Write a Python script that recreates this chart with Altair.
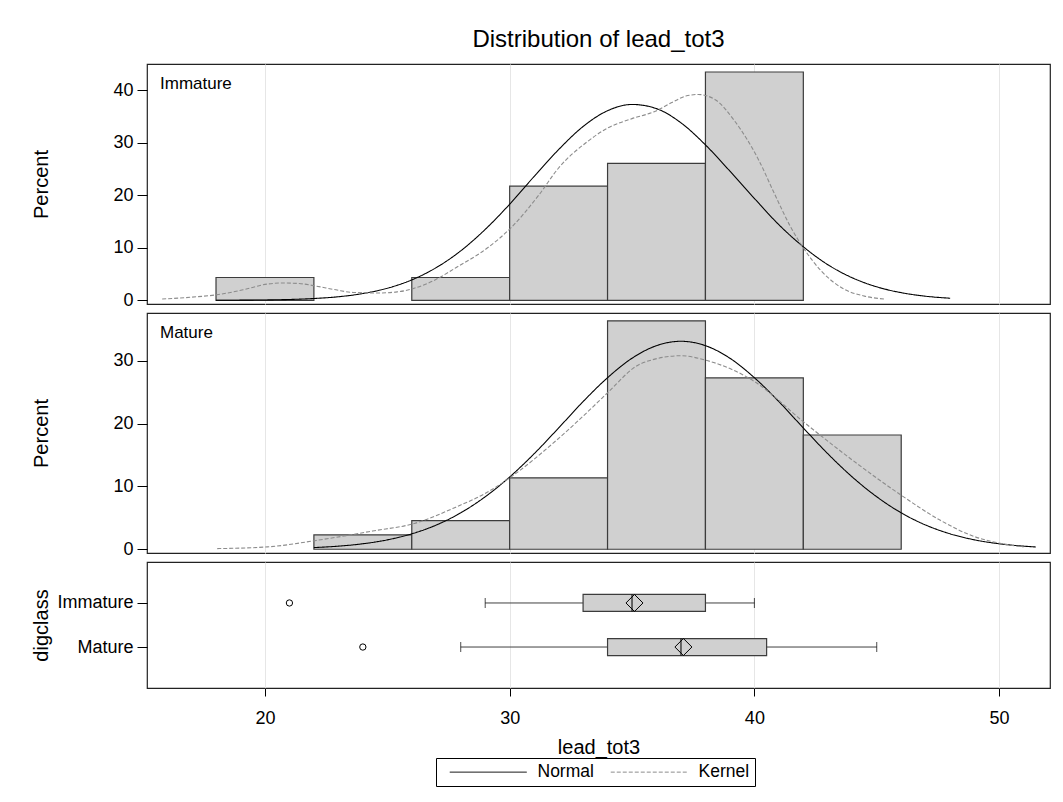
import altair as alt
import pandas as pd

FONT = "Liberation Sans"

# ---- histogram: lower bin edges (bin width 4) and percent of each class ----
BIN_WIDTH = 4
imm_bin_lo = [18, 26, 30, 34, 38]
imm_pct = [4.35, 4.35, 21.74, 26.09, 43.48]
mat_bin_lo = [22, 26, 30, 34, 38, 42]
mat_pct = [2.27, 4.55, 11.36, 36.36, 27.27, 18.18]

# ---- fitted normal curves (percent scale) ----
imm_norm_x = [18, 19, 20, 21, 22, 23, 24, 25, 26, 27, 28, 29, 30, 31, 32, 33,
              34, 35, 36, 37, 38, 39, 40, 41, 42, 43, 44, 45, 46, 47, 48]
imm_norm_y = [0.01, 0.03, 0.07, 0.16, 0.35, 0.68, 1.29, 2.30, 3.89, 6.23, 9.42,
              13.5, 18.3, 23.6, 28.7, 33.1, 36.1, 37.3, 36.5, 33.8, 29.6, 24.6,
              19.4, 14.4, 10.2, 6.79, 4.29, 2.57, 1.46, 0.78, 0.40]
mat_norm_x = [22, 23, 24, 25, 26, 27, 28, 29, 30, 31, 32, 33, 34, 35, 36, 37,
              38, 39, 40, 41, 42, 43, 44, 45, 46, 47, 48, 49, 50, 51, 51.5]
mat_norm_y = [0.26, 0.49, 0.87, 1.49, 2.45, 3.85, 5.79, 8.35, 11.5, 15.2, 19.3,
              23.5, 27.3, 30.4, 32.4, 33.1, 32.4, 30.4, 27.3, 23.5, 19.3, 15.2,
              11.5, 8.35, 5.79, 3.85, 2.45, 1.49, 0.87, 0.49, 0.36]

# ---- kernel density curves (percent scale) ----
imm_kern_x = [15.8, 17.0, 18.1, 19.1, 20.1, 20.7, 21.4, 22.1, 22.9, 23.6, 24.65,
              25.4, 26.1, 27.0, 27.8, 29.1, 30.05, 31.2, 32.0, 33.2, 34.0, 35.0,
              35.95, 36.6, 37.2, 37.7, 38.4, 39.2, 40.2, 40.84, 41.5, 42.0, 42.75,
              43.6, 44.5, 45.3]
imm_kern_y = [0.25, 0.6, 1.1, 2.0, 3.1, 3.3, 3.2, 2.7, 2.0, 1.5, 1.4,
              1.6, 2.3, 4.0, 6.2, 10.0, 13.8, 20.1, 25.2, 30.3, 32.8, 34.6,
              36.0, 37.6, 38.9, 39.2, 38.2, 34.1, 26.5, 20.1, 13.8, 10.0, 5.5,
              2.3, 0.8, 0.25]
mat_kern_x = [18.05, 20.1, 22.1, 24.4, 26.1, 27.8, 29.1, 30.05, 31.9, 33.6, 34.0,
              35.4, 37.0, 38.0, 40.0, 42.0, 44.0, 46.0, 47.6, 49.0, 50.1, 51.0]
mat_kern_y = [0.1, 0.37, 1.4, 2.9, 4.1, 6.7, 9.1, 11.5, 17.3, 23.4, 24.9,
              29.6, 30.8, 30.1, 26.7, 20.3, 14.2, 8.6, 4.6, 2.0, 0.9, 0.37]

# ---- box plot statistics by digclass ----
groups = ["Immature", "Mature"]
whisk_lo = [29, 28]
q1 = [33, 34]
median = [35, 37]
q3 = [38, 40.5]
whisk_hi = [40, 45]
mean = [35.1, 37.1]
outlier_group = ["Immature", "Mature"]
outlier_val = [21, 24]

X_DOMAIN = [15.18, 52.08]
X_TICKS = [20, 30, 40, 50]
GRID = "#e6e6e6"
BAR_FILL = "#d0d0d0"
BAR_STROKE = "#3c3c3c"
PANEL_W = 903
HIST_H = 240

# long horizontal legend line: starts at the symbol centre, 8 symbol-widths long
LEGEND_LINE = "M0,0H16"

x_scale = alt.Scale(domain=X_DOMAIN, nice=False, zero=False)
# grid-only x axis for the histogram panels
hidden_x_axis = alt.Axis(values=X_TICKS, labels=False, ticks=False, domain=False,
                         grid=True, gridColor=GRID, title=None)

curve_color = alt.Color(
    "curve:N",
    scale=alt.Scale(domain=["Normal", "Kernel"], range=["#000000", "#8c8c8c"]),
    legend=alt.Legend(title=None),
)
curve_dash = alt.StrokeDash(
    "curve:N",
    scale=alt.Scale(domain=["Normal", "Kernel"], range=[[1, 0], [4, 2]]),
    legend=alt.Legend(title=None),
)


def percent_axis(ticks, height):
    return alt.Axis(title="Percent", values=ticks, tickSize=10, labelPadding=4,
                    domain=False, grid=False, tickColor="black",
                    titleX=-106, titleY=height / 2, titleAngle=270,
                    titleAlign="center", titleBaseline="middle")


def hist_panel(label, lo, pct, nx, ny, kx, ky, ymin, ymax, yticks, height,
               title=None):
    bars = pd.DataFrame({"lo": lo, "hi": [v + BIN_WIDTH for v in lo], "pct": pct})
    curves = pd.concat([
        pd.DataFrame({"x": nx, "pct": ny, "curve": "Normal"}),
        pd.DataFrame({"x": kx, "pct": ky, "curve": "Kernel"}),
    ])
    y_scale = alt.Scale(domain=[ymin, ymax], nice=False, zero=False)

    bar_layer = alt.Chart(bars).mark_bar(
        fill=BAR_FILL, stroke=BAR_STROKE, strokeWidth=1.2
    ).encode(
        x=alt.X("lo:Q", scale=x_scale, axis=hidden_x_axis),
        x2="hi:Q",
        y=alt.Y("pct:Q", scale=y_scale, axis=percent_axis(yticks, height)),
        y2=alt.datum(0),
    )
    line_layer = alt.Chart(curves).mark_line(
        interpolate="monotone", strokeWidth=1.1
    ).encode(
        x=alt.X("x:Q", scale=x_scale),
        y=alt.Y("pct:Q", scale=y_scale),
        color=curve_color,
        strokeDash=curve_dash,
    )
    text_layer = alt.Chart(pd.DataFrame({"label": [label]})).mark_text(
        align="left", baseline="middle", font=FONT, fontSize=17, color="black"
    ).encode(text="label:N", x=alt.value(13), y=alt.value(20))

    props = dict(width=PANEL_W, height=height)
    if title is not None:
        props["title"] = title
    return alt.layer(bar_layer, line_layer, text_layer).properties(**props)


title = alt.TitleParams(
    "Distribution of lead_tot3", anchor="middle", frame="group", font=FONT,
    fontSize=24, fontWeight="normal", color="black", offset=12,
)

top = hist_panel("Immature", imm_bin_lo, imm_pct, imm_norm_x, imm_norm_y,
                 imm_kern_x, imm_kern_y, -0.7, 45, [0, 10, 20, 30, 40], HIST_H,
                 title=title)
middle = hist_panel("Mature", mat_bin_lo, mat_pct, mat_norm_x, mat_norm_y,
                    mat_kern_x, mat_kern_y, -0.6, 37.6, [0, 10, 20, 30], HIST_H)

# ---- box plot panel ----
BOX_H = 126
box_df = pd.DataFrame({"group": groups, "lo": whisk_lo, "q1": q1, "med": median,
                       "q3": q3, "hi": whisk_hi, "mean": mean})
out_df = pd.DataFrame({"group": outlier_group, "val": outlier_val})

y_box = alt.Y(
    "group:N",
    scale=alt.Scale(type="point", domain=groups, padding=0.93),
    axis=alt.Axis(title="digclass", tickSize=10, labelPadding=4, domain=False,
                  grid=False, tickColor="black", titleX=-106, titleY=BOX_H / 2,
                  titleAngle=270, titleAlign="center", titleBaseline="middle"),
)
x_box_axis = alt.Axis(values=X_TICKS, tickSize=8, labelPadding=13, domain=False,
                      grid=True, gridColor=GRID, tickColor="black",
                      title="lead_tot3", titlePadding=10)

base = alt.Chart(box_df)
whisker = base.mark_rule(color="#404040", strokeWidth=1).encode(
    x=alt.X("lo:Q", scale=x_scale, axis=x_box_axis), x2="hi:Q", y=y_box)
box = base.mark_bar(size=17, fill=BAR_FILL, stroke=BAR_STROKE, strokeWidth=1.2).encode(
    x=alt.X("q1:Q", scale=x_scale), x2="q3:Q", y=y_box)
cap_lo = base.mark_tick(orient="vertical", size=10, thickness=1, color="black").encode(
    x=alt.X("lo:Q", scale=x_scale), y=y_box)
cap_hi = base.mark_tick(orient="vertical", size=10, thickness=1, color="black").encode(
    x=alt.X("hi:Q", scale=x_scale), y=y_box)
med_line = base.mark_tick(orient="vertical", size=17, thickness=1.5, color="black").encode(
    x=alt.X("med:Q", scale=x_scale), y=y_box)
mean_mark = base.mark_point(shape="diamond", size=290, filled=False, color="black",
                            strokeWidth=1, opacity=1).encode(
    x=alt.X("mean:Q", scale=x_scale), y=y_box)
outliers = alt.Chart(out_df).mark_point(shape="circle", size=40, filled=False,
                                        color="black", strokeWidth=1, opacity=1).encode(
    x=alt.X("val:Q", scale=x_scale), y=y_box)

bottom = alt.layer(whisker, box, med_line, mean_mark, cap_lo, cap_hi, outliers).properties(
    width=PANEL_W, height=BOX_H)

chart = alt.vconcat(top, middle, bottom, spacing=9, bounds="flush").resolve_scale(
    y="independent"
).properties(
    padding={"left": 30, "top": 27, "right": 5, "bottom": 5},
    background="white",
).configure_view(
    stroke="#222222", strokeWidth=1.2
).configure_axis(
    labelFont=FONT, labelFontSize=18, labelColor="black",
    titleFont=FONT, titleFontSize=20, titleColor="black", titleFontWeight="normal",
).configure_legend(
    orient="none", legendX=289, legendY=694, direction="horizontal",
    symbolType=LEGEND_LINE, symbolSize=92.6, symbolStrokeWidth=1,
    labelFont=FONT, labelFontSize=17.5, labelColor="black", labelOffset=79,
    columnPadding=8, padding=5, strokeColor="black",
)

chart.save("out.html", embed_options={"renderer": "svg", "actions": False})
